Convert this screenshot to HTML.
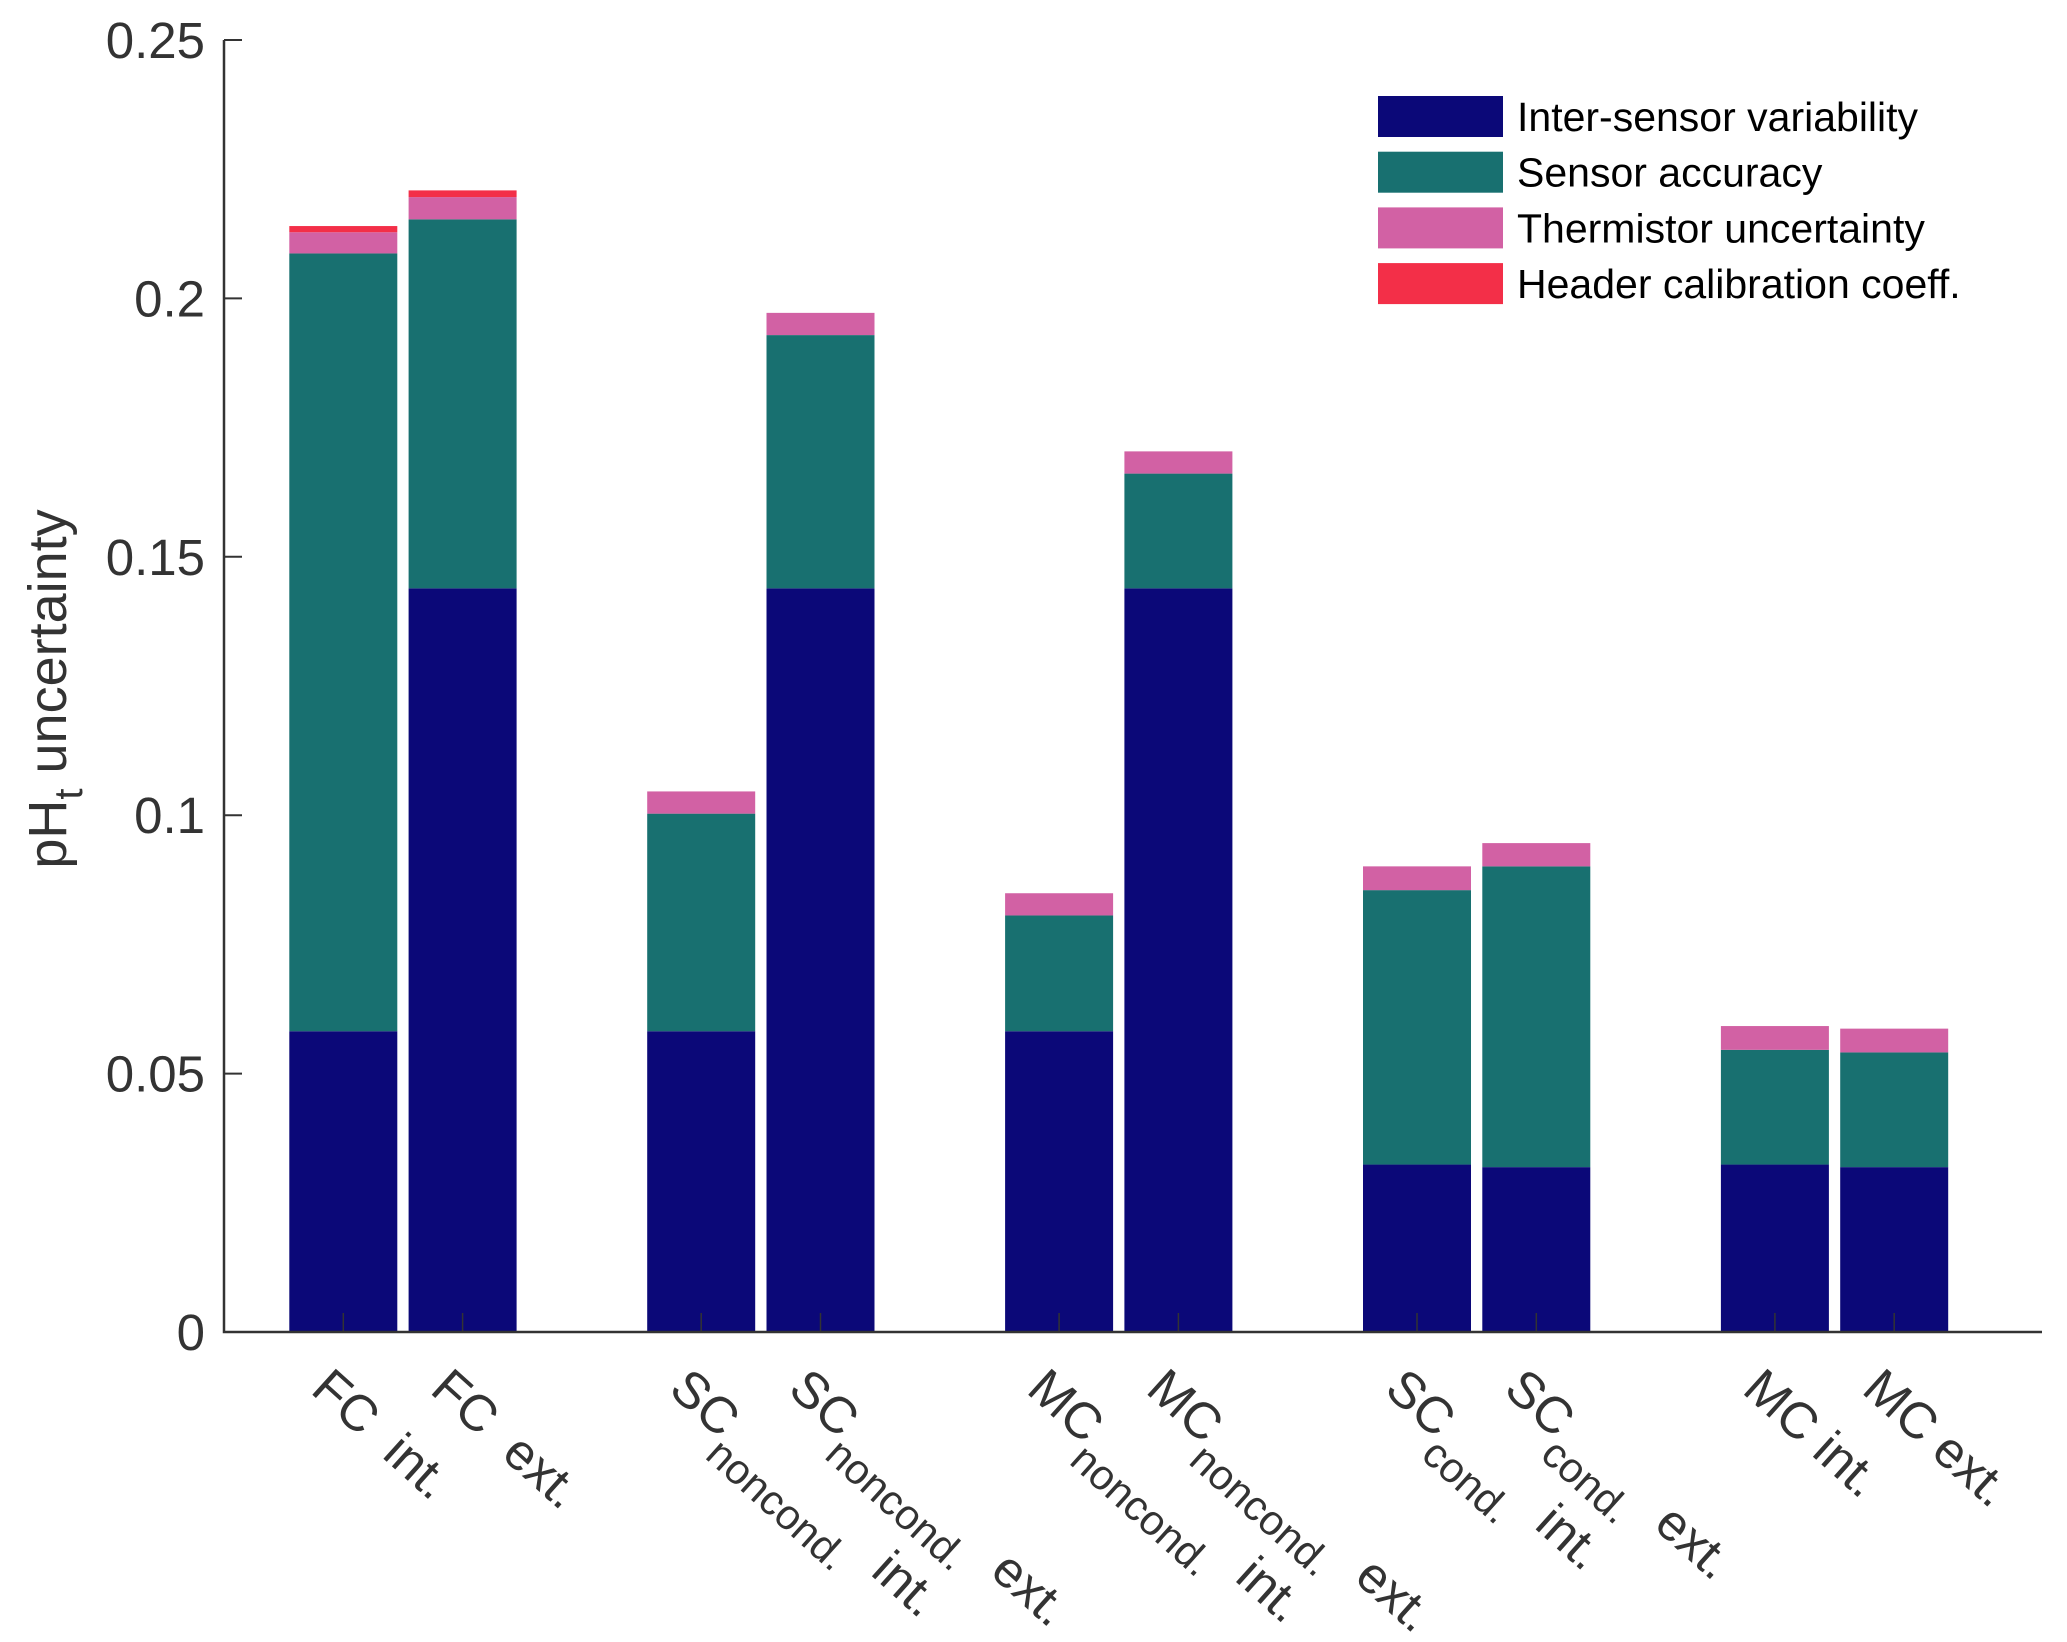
<!DOCTYPE html>
<html><head><meta charset="utf-8"><style>
html,body{margin:0;padding:0;background:#fff}
svg{display:block}
text{font-family:"Liberation Sans",Arial,sans-serif}
</style></head><body>
<svg id="chart" width="2067" height="1642" viewBox="0 0 2067 1642" xmlns="http://www.w3.org/2000/svg">
<g id="bars"></g>
<g id="axes"></g>
<text transform="translate(66,689) rotate(-90)" text-anchor="middle" font-size="54" fill="#333">pH<tspan font-size="40" dy="16">t</tspan><tspan dy="-16"> uncertainty</tspan></text>
<g id="legend"></g>
</svg>
<script>
const categories = ["FC int.","FC ext.","SC noncond. int.","SC noncond. ext.","MC noncond. int.","MC noncond. ext.","SC cond. int.","SC cond. ext.","MC int.","MC ext."];
const xPositions = [1,2,4,5,7,8,10,11,13,14];
const interSensor = [0.0582,0.1439,0.0582,0.1439,0.0582,0.1439,0.0324,0.0319,0.0324,0.0319];
const sensorAccuracy = [0.1505,0.0714,0.0421,0.0490,0.0224,0.0222,0.0531,0.0582,0.0222,0.0222];
const thermistor = [0.0041,0.0043,0.0043,0.0043,0.0043,0.0043,0.0046,0.0045,0.0046,0.0046];
const headerCal = [0.0012,0.0013,0,0,0,0,0,0,0,0];
const seriesNames = ["Inter-sensor variability","Sensor accuracy","Thermistor uncertainty","Header calibration coeff."];
const seriesColors = ["#0b0878","#187070","#d261a4","#f32f48"];
const yTicks = [0,0.05,0.1,0.15,0.2,0.25];
const yTickLabels = ["0","0.05","0.1","0.15","0.2","0.25"];
const labelMain = ["FC\u00a0\u00a0int.","FC\u00a0\u00a0ext.","SC","SC","MC","MC","SC","SC","MC int.","MC ext."];
const labelSub = ["","","noncond.","noncond.","noncond.","noncond.","cond.","cond.","",""];
const labelTail = ["","","\u00a0 int.","\u00a0 ext.","\u00a0 int.","\u00a0 ext.","\u00a0 int.","\u00a0 ext.","",""];

const NS="http://www.w3.org/2000/svg";
const X0=224, X1=2042, Y0=1332, Y1=40, unit=119.3, barW=108;
const xs=v=>X0+v*unit;
const ys=v=>Y0-(v/0.25)*(Y0-Y1);
function mk(tag,parent){const e=document.createElementNS(NS,tag);parent.appendChild(e);return e;}
const bars=document.getElementById('bars');
const series=[interSensor,sensorAccuracy,thermistor,headerCal];
const snames=['inter-sensor','sensor-accuracy','thermistor','header-cal'];
categories.forEach((c,i)=>{
  let base=0;
  series.forEach((s,k)=>{
    const v=s[i]; if(v<=0) return;
    const r=mk('rect',bars);
    
    
    r.setAttribute('x',xs(xPositions[i])-barW/2);
    r.setAttribute('width',barW);
    r.setAttribute('y',ys(base+v));
    r.setAttribute('height',ys(base)-ys(base+v));
    r.setAttribute('fill',seriesColors[k]);
    base+=v;
  });
});
const axes=document.getElementById('axes');
const al=mk('path',axes);


al.setAttribute('d',`M${X0},${Y1} V${Y0} H${X1}`);
al.setAttribute('stroke','#333');al.setAttribute('stroke-width','2.5');al.setAttribute('fill','none');
yTicks.forEach((t,i)=>{
  const l=mk('line',axes);
  
  
  l.setAttribute('x1',X0);l.setAttribute('x2',X0+18);l.setAttribute('y1',ys(t));l.setAttribute('y2',ys(t));
  l.setAttribute('stroke','#333');l.setAttribute('stroke-width','2');
  const tx=mk('text',axes);
  
  
  tx.setAttribute('x',205);tx.setAttribute('y',ys(t)+18);tx.setAttribute('text-anchor','end');
  tx.setAttribute('font-size','51');tx.setAttribute('fill','#333');
  tx.textContent=yTickLabels[i];
});
categories.forEach((c,i)=>{
  const x=xs(xPositions[i]);
  const l=mk('line',axes);
  
  
  l.setAttribute('x1',x);l.setAttribute('x2',x);l.setAttribute('y1',Y0);l.setAttribute('y2',Y0-19);
  l.setAttribute('stroke','#333');l.setAttribute('stroke-width','1.5');
  const t=mk('text',axes);
  
  
  t.setAttribute('transform',`translate(${x-34},1392) rotate(42)`);
  t.setAttribute('font-size','51');t.setAttribute('fill','#333');
  const a=mk('tspan',t);a.textContent=labelMain[i];
  if(labelSub[i]){
    const b=mk('tspan',t);b.setAttribute('font-size','42');b.setAttribute('dy','24');b.textContent=labelSub[i];
    const d=mk('tspan',t);d.setAttribute('dy','-24');d.textContent=labelTail[i];
  }
});
const lg=document.getElementById('legend');
seriesNames.forEach((n,k)=>{
  const y=96+k*55.7;
  const r=mk('rect',lg);
  
  
  r.setAttribute('x',1378);r.setAttribute('y',y);r.setAttribute('width',125);r.setAttribute('height',41);
  r.setAttribute('fill',seriesColors[k]);
  const t=mk('text',lg);
  
  
  t.setAttribute('x',1517);t.setAttribute('y',y+35);t.setAttribute('font-size','41');t.setAttribute('fill','#000');
  t.textContent=n;
});
</script>
</body></html>
